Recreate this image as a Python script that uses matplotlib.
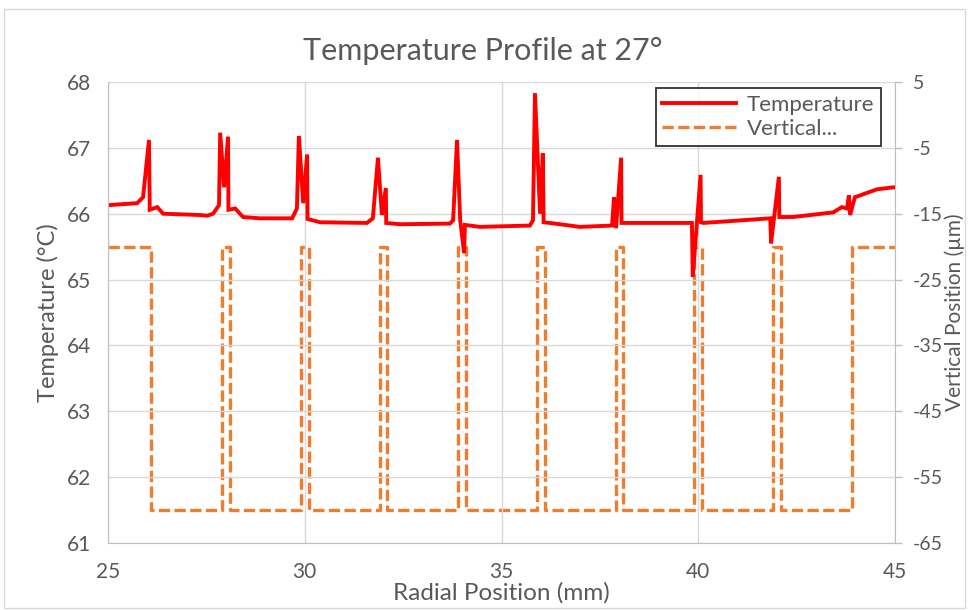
import matplotlib
matplotlib.use("Agg")
import matplotlib.pyplot as plt
from matplotlib.lines import Line2D
from matplotlib.patches import Rectangle

# radial position (mm) and temperature (degC)
radial_mm = [25.0, 25.74, 25.89, 26.04, 26.06, 26.25, 26.40, 27.34, 27.52, 27.67,
             27.82, 27.85, 27.95, 28.05, 28.06, 28.23, 28.43, 28.86, 29.68, 29.80,
             29.85, 29.96, 30.06, 30.07, 30.39, 31.58, 31.73, 31.86, 31.96, 32.06,
             32.07, 32.42, 33.69, 33.77, 33.87, 33.95, 34.05, 34.07, 34.45, 35.72,
             35.80, 35.85, 35.98, 36.05, 36.07, 36.23, 36.99, 37.81, 37.86, 37.91,
             38.04, 38.05, 39.03, 39.84, 39.86, 40.06, 40.07, 40.13, 41.83, 41.85,
             42.05, 42.06, 42.41, 43.43, 43.65, 43.78, 43.83, 43.86, 43.98, 44.54,
             44.95, 45.0]
temperature = [66.13, 66.16, 66.25, 67.12, 66.06, 66.10, 66.00, 65.98, 65.97, 66.00,
               66.13, 67.23, 66.40, 67.17, 66.06, 66.08, 65.95, 65.93, 65.93, 66.08,
               67.18, 66.16, 66.90, 65.92, 65.87, 65.86, 65.93, 66.85, 65.98, 66.39,
               65.86, 65.84, 65.85, 65.90, 67.12, 65.90, 65.40, 65.83, 65.80, 65.82,
               65.90, 67.83, 66.00, 66.92, 65.87, 65.86, 65.80, 65.82, 66.25, 65.78,
               66.85, 65.86, 65.86, 65.86, 65.04, 66.59, 65.87, 65.86, 65.93, 65.55,
               66.56, 65.95, 65.95, 66.02, 66.10, 66.08, 66.28, 65.98, 66.25, 66.37,
               66.40, 66.40]

# vertical position (um) step profile
vert_x = [25.0, 26.1, 26.1, 27.9, 27.9, 28.1, 28.1, 29.9, 29.9, 30.1, 30.1,
          31.9, 31.9, 32.1, 32.1, 33.9, 33.9, 34.1, 34.1, 35.9, 35.9, 36.1, 36.1,
          37.9, 37.9, 38.1, 38.1, 39.9, 39.9, 40.1, 40.1, 41.9, 41.9, 42.1, 42.1,
          43.9, 43.9, 45.0]
vert_um = [-20, -20, -60, -60, -20, -20, -60, -60, -20, -20, -60,
           -60, -20, -20, -60, -60, -20, -20, -60, -60, -20, -20, -60,
           -60, -20, -20, -60, -60, -20, -20, -60, -60, -20, -20, -60,
           -60, -20, -20]

x_ticks = [25, 30, 35, 40, 45]
t_ticks = [61, 62, 63, 64, 65, 66, 67, 68]
v_ticks = [-65, -55, -45, -35, -25, -15, -5, 5]

plt.rcParams['font.family'] = ['Lato', 'DejaVu Sans']
plt.rcParams['axes.unicode_minus'] = False
txt = "#595959"
red = "#FF0000"
orange = "#ED7D31"
frame = "#bfbfbf"
dash = (0, (3.4, 1.3))

fig = plt.figure(figsize=(9.69, 6.1), dpi=100)
fig.patches.append(Rectangle((0.004, 0.004), 0.992, 0.982, transform=fig.transFigure,
                             fill=False, edgecolor="#d9d9d9", linewidth=1))

ax = fig.add_axes([0.1115, 0.1098, 0.8121, 0.7558])
ax2 = ax.twinx()

ax2.plot(vert_x, vert_um, color=orange, lw=2.4, linestyle=dash)
ax.plot(radial_mm, temperature, color=red, lw=2.8, solid_joinstyle="miter")

ax.set_zorder(ax2.get_zorder() + 1)
ax.patch.set_visible(False)

ax.set_xlim(25, 45)
ax.set_ylim(61, 68)
ax2.set_ylim(-65, 5)
ax.set_xticks(x_ticks)
ax.set_yticks(t_ticks)
ax2.set_yticks(v_ticks)

ax.grid(True, color="#d9d9d9", lw=1)
for a in (ax, ax2):
    for s in a.spines.values():
        s.set_visible(False)
    a.tick_params(length=0, colors=txt, labelsize=15)
for side in ('bottom', 'left'):
    ax.spines[side].set_visible(True)
    ax.spines[side].set_color(frame)
ax2.spines['right'].set_visible(True)
ax2.spines['right'].set_color(frame)
ax.tick_params(axis='x', pad=14)
ax.tick_params(axis='y', pad=12)
ax2.tick_params(axis='y', length=5, width=1, color=frame, pad=8, labelsize=14)

ax.set_title("Temperature Profile at 27°", fontsize=22, color=txt, pad=16, x=0.476)
ax.set_xlabel("Radial Position (mm)", fontsize=17.5, color=txt, labelpad=0)
ax.set_ylabel("Temperature (°C)", fontsize=17, color=txt, labelpad=6)
ax2.set_ylabel("Vertical Position (µm)", fontsize=15, color=txt)
ax2.yaxis.set_label_coords(1.063, 0.5)

handles = [Line2D([], [], color=red, lw=2.8),
           Line2D([], [], color=orange, lw=2.4, linestyle=dash)]
leg = ax.legend(handles, ["Temperature", "Vertical..."], loc="upper right",
                bbox_to_anchor=(0.982, 0.987), borderaxespad=0, fontsize=16,
                frameon=True, fancybox=False, handlelength=3.3, borderpad=0.3,
                labelspacing=0.2, handletextpad=0.5)
leg.get_frame().set_edgecolor("black")
leg.get_frame().set_linewidth(1.3)
for t in leg.get_texts():
    t.set_color(txt)

fig.savefig("out.png", dpi=100)
